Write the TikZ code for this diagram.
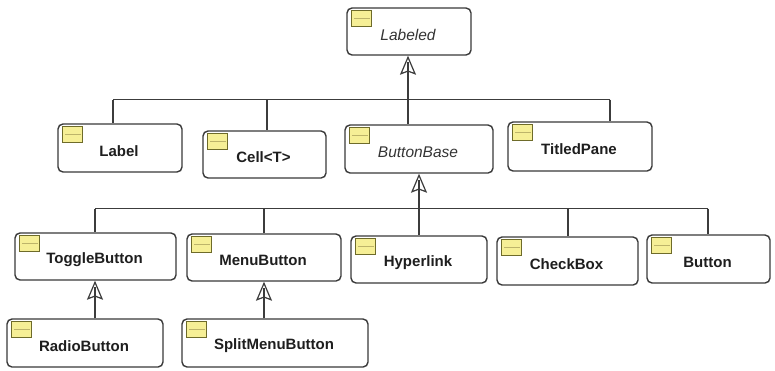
\documentclass[tikz,border=0pt]{standalone}
\usepackage{fontspec}
\setmainfont{Liberation Sans}
\usetikzlibrary{calc,arrows.meta}
\definecolor{bordc}{HTML}{3A3A3A}
\definecolor{linec}{HTML}{3C3C3C}
\definecolor{iconfill}{HTML}{F6EF96}
\definecolor{icondraw}{HTML}{6E6B2A}
\definecolor{iconmid}{HTML}{BDB46A}
\definecolor{txtc}{HTML}{1E1E1E}
\tikzset{
  box/.style={draw=bordc, line width=1.4pt, rounded corners=5pt, fill=white, inner sep=0pt},
  icon/.style={draw=icondraw, line width=1pt, fill=iconfill, minimum width=20pt, minimum height=16pt, inner sep=0pt,
    path picture={\draw[iconmid, line width=1pt] ($(path picture bounding box.west)+(2,-0.5)$) -- ($(path picture bounding box.east)+(-2,-0.5)$);}},
  bold/.style={font=\fontsize{15}{17}\selectfont\bfseries, text=txtc, inner sep=0pt},
  ital/.style={font=\fontsize{15.5}{17}\selectfont\itshape, text=txtc!90, inner sep=0pt},
  ln/.style={draw=linec, line width=1.2pt},
  inh/.style={ln, -{Stealth[length=19pt, width=16pt, inset=3pt, open, fill=white, line width=1.2pt]}},
}
\newcommand\umlbox[7]{%
  \node[box, minimum width=#4pt, minimum height=#5pt] (#1) at (#2,#3) {};
  \node[icon, anchor=north west] (#1i) at ($(#1.north west)+(5,3)$) {};
  \node[#7] (#1t) at ($(#1.center)+(-1,3)$) {#6};
}
\begin{document}
\begin{tikzpicture}[x=1pt,y=-1pt]
\useasboundingbox (0,0) rectangle (775,370);
\fill[white] (0,0) rectangle (775,370);

\umlbox{labeled}{409}{31.5}{124}{47}{Labeled}{ital}
\umlbox{label}{120}{148}{124}{48}{Label}{bold}
\umlbox{cell}{264.5}{154.5}{123}{47}{Cell<T>}{bold}
\umlbox{bbase}{419}{149}{148}{48}{ButtonBase}{ital}
\umlbox{titled}{580}{146.5}{144}{49}{TitledPane}{bold}
\umlbox{toggle}{95.5}{256.5}{161}{47}{ToggleButton}{bold}
\umlbox{menu}{264}{257.5}{154}{47}{MenuButton}{bold}
\umlbox{hyper}{419}{259.5}{136}{47}{Hyperlink}{bold}
\umlbox{check}{567.5}{261}{141}{48}{CheckBox}{bold}
\umlbox{button}{708.5}{259}{123}{48}{Button}{bold}
\umlbox{radio}{85}{343}{156}{48}{RadioButton}{bold}
\umlbox{split}{275}{343}{186}{48}{SplitMenuButton}{bold}

% top level
\coordinate (j1) at (113,99.5);
\coordinate (j2) at (267,99.5);
\coordinate (j3) at (408,99.5);
\coordinate (j4) at (610,99.5);
\draw[ln] (j1) -- (j4);
\draw[ln] (j1) -- (j1 |- label.north);
\draw[ln] (j2) -- (j2 |- cell.north);
\draw[ln] (j3) -- (j3 |- bbase.north);
\draw[ln] (j4) -- (j4 |- titled.north);
\draw[inh] (j3) -- (j3 |- labeled.south);
\draw[ln] (j3) -- ($(j3 |- labeled.south)+(0,6)$);

% second level
\coordinate (k1) at (95,208.5);
\coordinate (k2) at (264,208.5);
\coordinate (k3) at (419,208.5);
\coordinate (k4) at (568,208.5);
\coordinate (k5) at (708,208.5);
\draw[ln] (k1) -- (k5);
\draw[ln] (k1) -- (k1 |- toggle.north);
\draw[ln] (k2) -- (k2 |- menu.north);
\draw[ln] (k3) -- (k3 |- hyper.north);
\draw[ln] (k4) -- (k4 |- check.north);
\draw[ln] (k5) -- (k5 |- button.north);
\draw[inh] (k3) -- (k3 |- bbase.south);
\draw[ln] (k3) -- ($(k3 |- bbase.south)+(0,6)$);

% third level
\coordinate (m1) at (95,0);
\coordinate (m2) at (264,0);
\draw[inh] (m1 |- radio.north) -- (m1 |- toggle.south);
\draw[ln] (m1 |- radio.north) -- ($(m1 |- toggle.south)+(0,6)$);
\draw[inh] (m2 |- split.north) -- (m2 |- menu.south);
\draw[ln] (m2 |- split.north) -- ($(m2 |- menu.south)+(0,6)$);
\end{tikzpicture}
\end{document}
